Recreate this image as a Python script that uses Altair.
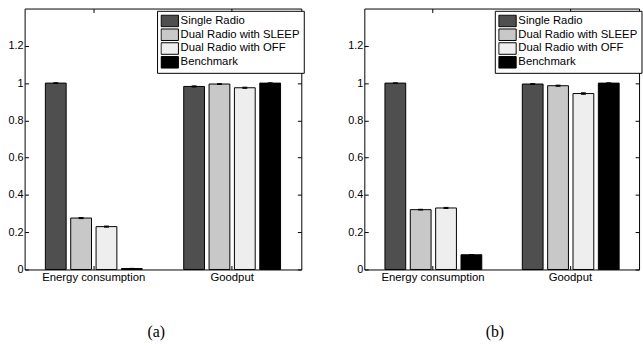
import altair as alt
import pandas as pd

categories = ["Energy consumption", "Goodput"]
series = ["Single Radio", "Dual Radio with SLEEP", "Dual Radio with OFF", "Benchmark"]
colors = ["#4f4f4f", "#c8c8c8", "#eeeeee", "#000000"]

# panel (a)
a_energy = [1.0, 0.276, 0.230, 0.005]
a_goodput = [0.982, 0.995, 0.975, 1.0]
a_energy_err = [0.002, 0.003, 0.003, 0.001]
a_goodput_err = [0.003, 0.002, 0.003, 0.001]
# panel (b)
b_energy = [1.0, 0.321, 0.330, 0.079]
b_goodput = [0.995, 0.986, 0.944, 1.0]
b_energy_err = [0.001, 0.002, 0.003, 0.001]
b_goodput_err = [0.002, 0.003, 0.004, 0.001]

y_ticks = [0, 0.2, 0.4, 0.6, 0.8, 1.0, 1.2]
captions = ["(a)", "(b)"]

FONT = "Liberation Sans"


def make_df(energy, goodput, e_err, g_err):
    rows = []
    for cat, vals, errs in ((categories[0], energy, e_err), (categories[1], goodput, g_err)):
        for s, v, e in zip(series, vals, errs):
            rows.append({"category": cat, "series": s, "value": v, "lo": v - e, "hi": v + e})
    return pd.DataFrame(rows)


def panel(df, caption, width):
    base = alt.Chart(df)
    xscale = alt.Scale(domain=categories, paddingInner=0.3, paddingOuter=0.15)
    xo = alt.XOffset("series:N", sort=series,
                     scale=alt.Scale(domain=series, paddingInner=0.18, paddingOuter=0))
    yscale = alt.Scale(domain=[0, 1.4], nice=False, zero=True)
    color = alt.Color(
        "series:N", sort=series,
        scale=alt.Scale(domain=series, range=colors),
        legend=alt.Legend(
            orient="none", legendX=width - 146.5, legendY=2.3, title=None,
            symbolType="M-1,-0.665L1,-0.665L1,0.665L-1,0.665Z", symbolSize=310,
            symbolStrokeColor="black", symbolStrokeWidth=1, symbolOpacity=1,
            labelFont=FONT, labelFontSize=11.5, labelColor="black", labelOffset=1.5,
            padding=3.4, strokeColor="black", fillColor="white", cornerRadius=0,
            rowPadding=0, clipHeight=13.8, labelLimit=300,
        ),
    )
    bars = base.mark_bar(stroke="black", strokeWidth=1, opacity=1).encode(
        x=alt.X("category:N", sort=categories, scale=xscale,
                axis=alt.Axis(orient="bottom", title=None, labelAngle=0, domain=False,
                              offset=-4, tickSize=4, tickColor="black", labelPadding=2.5,
                              labelFont=FONT, labelFontSize=11.5, labelColor="black")),
        xOffset=xo,
        y=alt.Y("value:Q", scale=yscale,
                axis=alt.Axis(orient="left", title=None, values=y_ticks, format=".1~f",
                              grid=False, domain=False, offset=-4, tickSize=4,
                              tickColor="black", labelPadding=1.5, labelFont=FONT,
                              labelFontSize=11, labelColor="black")),
        color=color,
    )
    xtop = alt.X("category:N", sort=categories, scale=xscale,
                 axis=alt.Axis(orient="top", title=None, labels=False, domain=False,
                               offset=-4, tickSize=4, tickColor="black"))
    yright = alt.Y("lo:Q", scale=yscale,
                   axis=alt.Axis(orient="right", title=None, labels=False, values=y_ticks,
                                 grid=False, domain=False, offset=-4, tickSize=4,
                                 tickColor="black"))
    err = base.mark_rule(color="black", strokeWidth=1).encode(
        x=xtop, xOffset=xo, y=yright, y2="hi:Q"
    )
    cap_hi = base.mark_tick(color="black", thickness=1, size=5, opacity=1).encode(
        x=alt.X("category:N", sort=categories, scale=xscale, axis=None),
        xOffset=xo, y=alt.Y("hi:Q", scale=yscale, axis=None))
    cap_lo = base.mark_tick(color="black", thickness=1, size=5, opacity=1).encode(
        x=alt.X("category:N", sort=categories, scale=xscale, axis=None),
        xOffset=xo, y=alt.Y("lo:Q", scale=yscale, axis=None))
    return alt.layer(bars, err, cap_hi, cap_lo).properties(
        width=width, height=265,
        title=alt.TitleParams(text=caption, orient="bottom", anchor="middle", frame="bounds",
                              font="Liberation Serif", fontSize=16, fontWeight="normal",
                              color="black", offset=42),
    )


left = panel(make_df(a_energy, a_goodput, a_energy_err, a_goodput_err), captions[0], 281)
right = panel(make_df(b_energy, b_goodput, b_energy_err, b_goodput_err), captions[1], 279)

chart = alt.hconcat(left, right, spacing=42).resolve_legend(color="independent").configure(
    padding={"left": 7, "top": 5, "right": 0, "bottom": 0},
    background="white",
).configure_view(stroke="black", strokeWidth=1)

chart.save("out.html", embed_options={"renderer": "svg", "actions": False})
